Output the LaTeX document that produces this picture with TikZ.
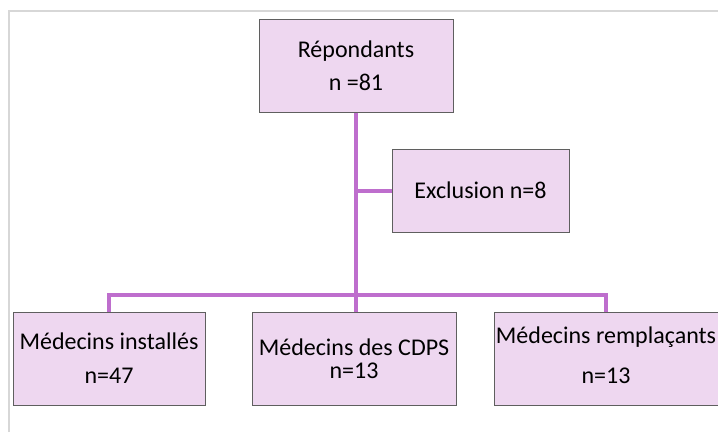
\documentclass[tikz,border=0pt]{standalone}
\usepackage{fontspec}
\setmainfont{Carlito}
\usepackage{tikz}
\usetikzlibrary{positioning}
\definecolor{boxfill}{RGB}{238,215,240}
\definecolor{boxline}{RGB}{95,95,95}
\definecolor{linkline}{RGB}{190,110,205}
\definecolor{framegray}{RGB}{215,215,215}

\begin{document}
\begin{tikzpicture}[x=1pt, y=-1pt,
        box/.style={draw=boxline, fill=boxfill, line width=1pt, align=center, inner sep=0pt, font=\fontsize{24}{28}\selectfont},
        link/.style={linkline, line width=4pt}]

        \useasboundingbox (0,0) rectangle (718,432);

        \draw[framegray, line width=1.5pt] (9,432) -- (9,11) -- (718,11);

        \node[box, minimum width=194pt, minimum height=93pt] (repondants) at (356,65.5) {Répondants\\[5pt] n =81};

        \node[box, minimum width=177pt, minimum height=83pt] (exclusion) at (480.5,190.5) {Exclusion n=8};

        \node[box, minimum width=192pt, minimum height=93pt] (installes) at (109,358.5) {Médecins installés\\[6pt] n=47};

        \node[box, minimum width=204pt, minimum height=93pt] (cdps) at (354,358.5) {Médecins des CDPS\\[-5pt] n=13};

        \node[box, minimum width=224pt, minimum height=93pt, text depth=6pt] (remplacants) at (606,358.5) {Médecins remplaçants\\[12pt] n=13};

        \coordinate (bar) at (355,295);

        \draw[link] (repondants.south) -- (repondants.south |- cdps.north);

        \draw[link] (repondants.south |- exclusion.west) -- (exclusion.west);

        \draw[link] (installes.north) |- (bar) -| (remplacants.north);

    \end{tikzpicture}
\end{document}
